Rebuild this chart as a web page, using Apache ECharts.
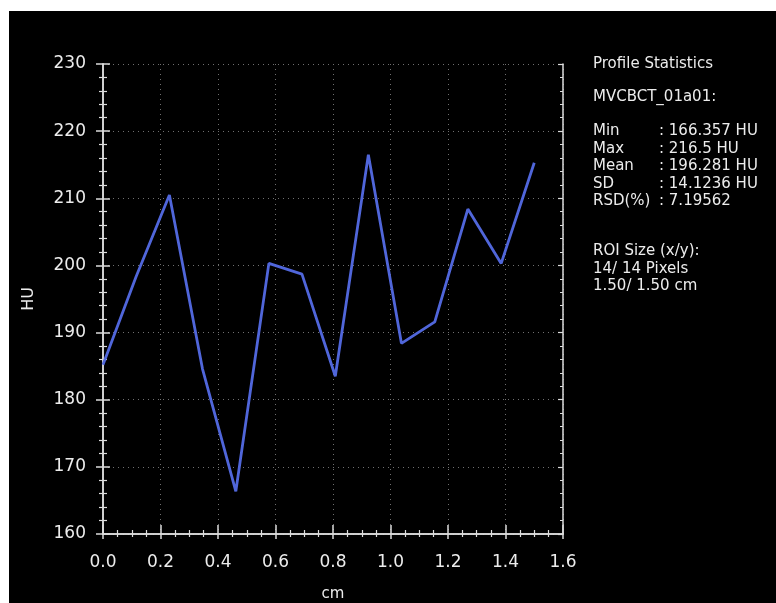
<!DOCTYPE html>
<html>
<head>
<meta charset="utf-8">
<script src="https://cdn.jsdelivr.net/npm/echarts@6/dist/echarts.min.js"></script>
<style>
  html, body { margin: 0; padding: 0; background: #ffffff; }
  #chart { position: absolute; left: 9px; top: 11px; width: 767px; height: 592px; background: #000000; }
</style>
</head>
<body>
<div id="chart"></div>
<script>
// Profile sample positions (cm) and measured values (HU)
const positionsCm = [0, 0.115, 0.231, 0.346, 0.462, 0.577, 0.692, 0.808, 0.923, 1.038, 1.154, 1.269, 1.385, 1.5];
const valuesHU = [185.2, 198.3, 210.5, 184.6, 166.357, 200.3, 198.7, 183.5, 216.5, 188.4, 191.6, 208.4, 200.3, 215.3];

// Axis ranges and tick spacing
const xTicks = { min: 0, max: 1.6, interval: 0.2 };
const yTicks = { min: 160, max: 230, interval: 10 };

// Statistics panel text
const panelTitle = 'Profile Statistics';
const datasetName = 'MVCBCT_01a01:';
const statNames = ['Min', 'Max', 'Mean', 'SD', 'RSD(%)'];
const statValues = [': 166.357 HU', ': 216.5 HU', ': 196.281 HU', ': 14.1236 HU', ': 7.19562'];
const roiLines = ['ROI Size (x/y):', '14/ 14 Pixels', '1.50/ 1.50 cm'];

const FONT = '"DejaVu Sans", Verdana, sans-serif';
const TEXT_COLOR = '#ececec';
const AXIS_COLOR = '#dcdcdc';

const chart = echarts.init(document.getElementById('chart'), null, { renderer: 'canvas' });

const gridLine = { show: true, lineStyle: { color: '#707070', width: 1, type: [1, 4] } };

function baseAxis(extra) {
  return Object.assign({
    type: 'value',
    axisLine: { show: true, onZero: false, lineStyle: { color: AXIS_COLOR, width: 1.5 } },
    splitLine: { show: false },
    axisLabel: { show: false }
  }, extra);
}

// Panel text as graphic elements (chart-div coordinates)
const OX = 9, OY = 11;
const panel = [];
function addText(txt, x, y) {
  panel.push({
    type: 'text', left: x - OX, top: y - OY - 9,
    style: { text: txt, fill: TEXT_COLOR, font: '15px ' + FONT }
  });
}
addText(panelTitle, 593, 66);
addText(datasetName, 593, 99);
const statRows = [133, 150.5, 168, 185.5, 203];
statNames.forEach((n, i) => { addText(n, 593, statRows[i]); addText(statValues[i], 659, statRows[i]); });
const roiRows = [253, 270.5, 288];
roiLines.forEach((t, i) => addText(t, 593, roiRows[i]));

const option = {
  backgroundColor: '#000000',
  animation: false,
  grid: { left: 94, top: 53, width: 460, height: 470, containLabel: false, outerBoundsMode: 'none' },
  xAxis: [
    baseAxis({
      position: 'bottom', min: xTicks.min, max: xTicks.max, interval: xTicks.interval,
      name: 'cm', nameLocation: 'middle', nameGap: 53,
      nameTextStyle: { color: TEXT_COLOR, fontFamily: FONT, fontSize: 15 },
      axisTick: { show: true, inside: false, length: 5, lineStyle: { color: AXIS_COLOR, width: 1.5 } },
      minorTick: { show: true, splitNumber: 4, length: 3, lineStyle: { color: AXIS_COLOR, width: 1.2 } },
      axisLabel: { show: true, color: TEXT_COLOR, fontFamily: FONT, fontSize: 17, margin: 20,
        formatter: v => v.toFixed(1) },
      splitLine: gridLine
    }),
    baseAxis({
      position: 'bottom', min: xTicks.min, max: xTicks.max, interval: xTicks.interval,
      axisTick: { show: true, inside: true, length: 9, lineStyle: { color: AXIS_COLOR, width: 1.5 } },
      minorTick: { show: true, splitNumber: 4, length: 4, lineStyle: { color: AXIS_COLOR, width: 1.2 } }
    })
  ],
  yAxis: [
    baseAxis({
      position: 'left', min: yTicks.min, max: yTicks.max, interval: yTicks.interval,
      name: 'HU', nameLocation: 'middle', nameGap: 66, nameRotate: 90,
      nameTextStyle: { color: TEXT_COLOR, fontFamily: FONT, fontSize: 16 },
      axisTick: { show: true, inside: false, length: 7, lineStyle: { color: AXIS_COLOR, width: 1.5 } },
      minorTick: { show: true, splitNumber: 5, length: 4, lineStyle: { color: AXIS_COLOR, width: 1.2 } },
      axisLabel: { show: true, color: TEXT_COLOR, fontFamily: FONT, fontSize: 17, margin: 17 },
      splitLine: gridLine
    }),
    baseAxis({
      position: 'left', min: yTicks.min, max: yTicks.max, interval: yTicks.interval,
      axisTick: { show: true, inside: true, length: 7, lineStyle: { color: AXIS_COLOR, width: 1.5 } },
      minorTick: { show: true, splitNumber: 5, length: 4, lineStyle: { color: AXIS_COLOR, width: 1.2 } }
    }),
    baseAxis({
      position: 'right', min: yTicks.min, max: yTicks.max, interval: yTicks.interval,
      axisTick: { show: true, inside: true, length: 5, lineStyle: { color: AXIS_COLOR, width: 1.2 } },
      minorTick: { show: true, splitNumber: 5, length: 3, lineStyle: { color: AXIS_COLOR, width: 1 } }
    })
  ],
  graphic: panel,
  series: [{
    type: 'line',
    xAxisIndex: 0, yAxisIndex: 0,
    data: positionsCm.map((x, i) => [x, valuesHU[i]]),
    showSymbol: false,
    lineStyle: { color: '#5066da', width: 2.8 },
    z: 5
  }]
};

chart.setOption(option);
</script>
</body>
</html>
